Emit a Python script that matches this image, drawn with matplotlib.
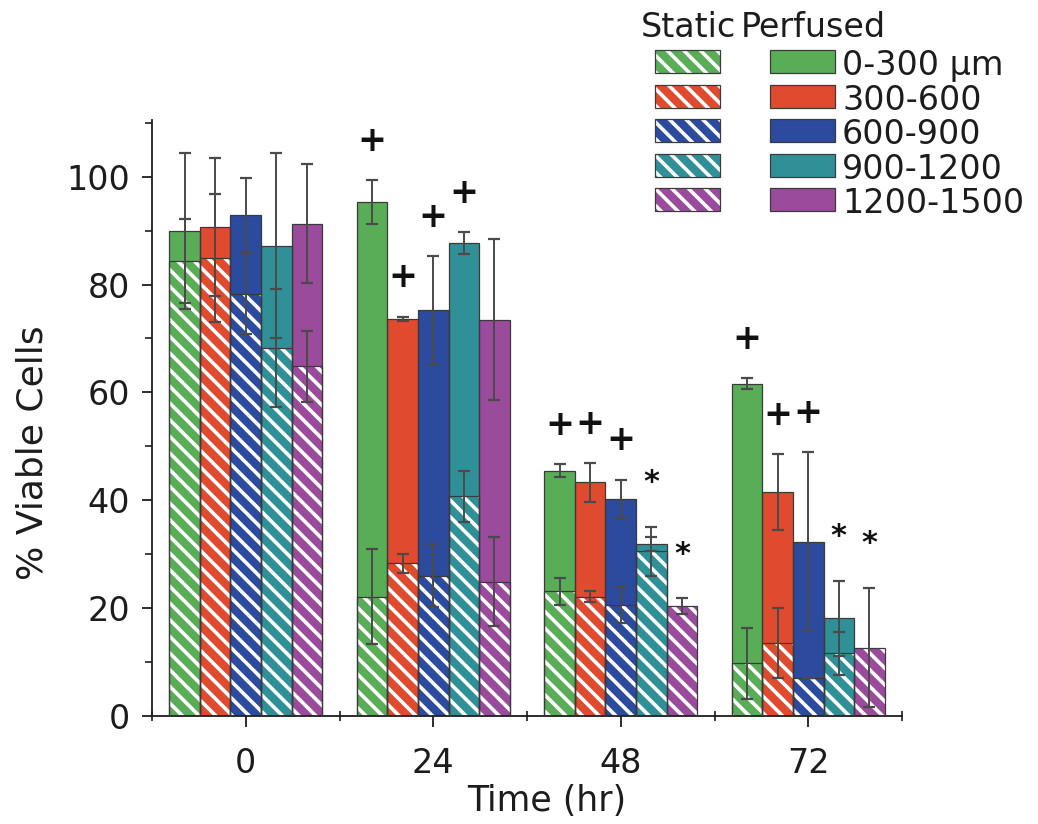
import numpy as np
import matplotlib
matplotlib.use("Agg")
import matplotlib.pyplot as plt
from matplotlib.patches import Rectangle

# ---------------------------------------------------------------- data
time_labels = ["0", "24", "48", "72"]
depth_labels = ["0-300 µm", "300-600", "600-900", "900-1200", "1200-1500"]
depth_colors = ["#5aad57", "#e04a2f", "#2c4b9e", "#2f9197", "#9a4b9c"]

# rows: depth band, columns: time point
perfused_mean = np.array([
    [89.9, 95.3, 45.5, 61.6],
    [90.7, 73.6, 43.3, 41.5],
    [92.9, 75.3, 40.3, 32.3],
    [87.2, 87.7, 31.9, 18.1],
    [91.3, 73.5, np.nan, np.nan],
])
perfused_err = np.array([
    [14.4, 4.0, 1.2, 1.0],
    [12.8, 0.4, 3.6, 7.0],
    [6.9, 10.0, 3.5, 16.6],
    [17.2, 2.0, 1.3, 7.0],
    [11.0, 15.0, np.nan, np.nan],
])
static_mean = np.array([
    [84.4, 22.1, 23.1, 9.8],
    [84.9, 28.3, 22.1, 13.5],
    [78.3, 26.0, 20.6, 7.0],
    [68.2, 40.7, 30.5, 11.6],
    [64.8, 24.9, 20.4, 12.7],
])
static_err = np.array([
    [7.8, 8.8, 2.5, 6.6],
    [11.9, 1.7, 1.0, 6.5],
    [7.5, 5.8, 3.3, 0.0],
    [11.0, 4.7, 4.5, 4.0],
    [6.5, 8.2, 1.4, 11.0],
])
# significance symbols per time point, one per depth band
sig_marks = [
    ["", "", "", "", ""],
    ["+", "+", "+", "+", ""],
    ["+", "+", "+", "*", "*"],
    ["+", "+", "+", "*", "*"],
]

# ---------------------------------------------------------------- style
FW, FH, DPI = 1038, 824, 100
plt.rcParams["font.family"] = ["DejaVu Sans"]
plt.rcParams["hatch.linewidth"] = 2.6
HATCH = "\\\\"
INK = "#1c1c1c"
EDGE = "#3a3a3a"
ERR = "#4a4a4a"

fig = plt.figure(figsize=(FW / DPI, FH / DPI), dpi=DPI)
fig.patch.set_facecolor("white")

ax_left, ax_right, ax_bottom, ax_top = 152, 902, 716, 120
ax_w, ax_h = ax_right - ax_left, ax_bottom - ax_top
ax = fig.add_axes([ax_left / FW, 1 - ax_bottom / FH, ax_w / FW, ax_h / FH])

n_depth = len(depth_labels)
bar_w = 0.163
x = np.arange(len(time_labels))

for i in range(n_depth):
    xi = x + (i - (n_depth - 1) / 2) * bar_w
    col = depth_colors[i]
    # perfused: solid bars
    ax.bar(xi, perfused_mean[i], bar_w, color=col, edgecolor="none",
           linewidth=0, zorder=1)
    ax.bar(xi, perfused_mean[i], bar_w, fill=False, edgecolor=EDGE,
           linewidth=0.9, zorder=3)
    # static: hatched bars drawn over the perfused ones
    ax.bar(xi, static_mean[i], bar_w, color=col, edgecolor="white",
           linewidth=0, hatch=HATCH, zorder=2)
    ax.bar(xi, static_mean[i], bar_w, fill=False, edgecolor=EDGE,
           linewidth=0.9, zorder=3)
    ax.errorbar(xi, perfused_mean[i], yerr=perfused_err[i], fmt="none",
                ecolor=ERR, elinewidth=1.4, capsize=4.3, capthick=1.6,
                zorder=4)
    ax.errorbar(xi, static_mean[i], yerr=static_err[i], fmt="none",
                ecolor=ERR, elinewidth=1.4, capsize=4.3, capthick=1.6,
                zorder=4)

# significance symbols above the highest error bar of each bar
for j, marks in enumerate(sig_marks):
    for i, m in enumerate(marks):
        if not m:
            continue
        xi = x[j] + (i - (n_depth - 1) / 2) * bar_w
        top = np.nanmax([perfused_mean[i, j] + perfused_err[i, j],
                         static_mean[i, j] + static_err[i, j]])
        if m == "+":
            ax.text(xi, top + 7.3, m, ha="center", va="center",
                    fontsize=25, fontweight="bold", color="#111111", zorder=5)
        else:
            ax.text(xi, top + 8.2, m, ha="center", va="center",
                    fontsize=22, fontweight="bold", color="#111111", zorder=5)

# ---------------------------------------------------------------- axes
ax.set_xlim(-0.5, len(time_labels) - 0.5)
ax.set_ylim(0, 110.5)
ax.set_xticks(x)
ax.set_xticklabels(time_labels)
ax.set_xticks(np.arange(-0.5, len(time_labels), 1.0), minor=True)
ax.set_yticks(np.arange(0, 101, 20))
ax.set_yticks(np.arange(10, 111, 20), minor=True)

for side in ("top", "right"):
    ax.spines[side].set_visible(False)
for side in ("left", "bottom"):
    ax.spines[side].set_linewidth(1.3)
    ax.spines[side].set_color(INK)

ax.tick_params(axis="y", which="major", direction="out", length=7, width=1.3,
               color=INK, labelsize=24, pad=9, labelcolor=INK)
ax.tick_params(axis="y", which="minor", direction="out", length=5, width=1.2,
               color=INK)
ax.tick_params(axis="x", which="major", direction="out", length=8, width=1.3,
               color=INK, labelsize=24, pad=14, labelcolor=INK)
ax.tick_params(axis="x", which="minor", direction="inout", length=7,
               width=1.2, color=INK)

ax.set_xlabel("Time (hr)", fontsize=25, color=INK)
ax.xaxis.set_label_coords((547 - ax_left) / ax_w, -(784 - ax_bottom) / ax_h)
ax.set_ylabel("% Viable Cells", fontsize=26, color=INK)
ax.yaxis.set_label_coords(-(ax_left - 50) / ax_w, (ax_bottom - 453) / ax_h)

# ---------------------------------------------------------------- legend
def fig_box(x0, y0, x1, y1):
    return (x0 / FW, 1 - y1 / FH), (x1 - x0) / FW, (y1 - y0) / FH


fig.text(641 / FW, 1 - 37 / FH, "Static", fontsize=24, color=INK,
         ha="left", va="baseline")
fig.text(741 / FW, 1 - 37 / FH, "Perfused", fontsize=24, color=INK,
         ha="left", va="baseline")

row_top, row_h, row_step = 50, 23, 34.6
for k, (label, col) in enumerate(zip(depth_labels, depth_colors)):
    y0 = row_top + k * row_step
    y1 = y0 + row_h
    xy, w, h = fig_box(655, y0, 720, y1)
    fig.add_artist(Rectangle(xy, w, h, transform=fig.transFigure,
                             facecolor=col, edgecolor="white", linewidth=0,
                             hatch=HATCH))
    fig.add_artist(Rectangle(xy, w, h, transform=fig.transFigure,
                             fill=False, edgecolor=EDGE, linewidth=0.9))
    xy, w, h = fig_box(770, y0, 835, y1)
    fig.add_artist(Rectangle(xy, w, h, transform=fig.transFigure,
                             facecolor=col, edgecolor=EDGE, linewidth=0.9))
    fig.text(842 / FW, 1 - (y1 + 2) / FH, label, fontsize=24, color=INK,
             ha="left", va="baseline")

fig.savefig("out.png", dpi=DPI, facecolor="white")
